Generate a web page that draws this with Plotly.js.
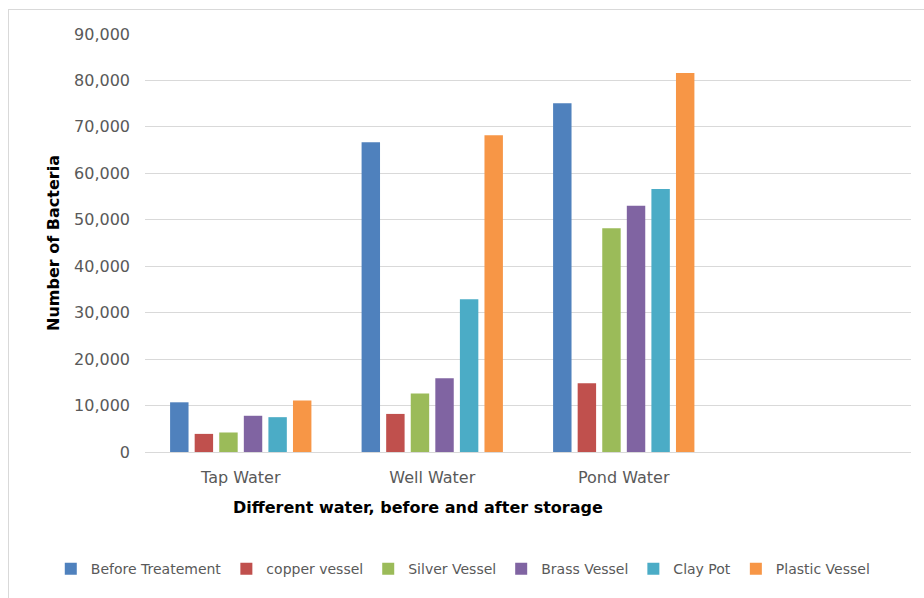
<!DOCTYPE html>
<html>
<head>
<meta charset="utf-8">
<script src="https://cdn.plot.ly/plotly-3.0.1.min.js"></script>
<style>
  html, body { margin: 0; padding: 0; background: #fff; }
  #chart { width: 924px; height: 598px; position: relative; }
  #frame { position: absolute; left: 8px; top: 9px; width: 916px; height: 589px;
           border-top: 1px solid #d9d9d9; border-left: 1px solid #d9d9d9;
           pointer-events: none; box-sizing: border-box; }
</style>
</head>
<body>
<div id="chart"></div>
<div id="frame"></div>
<script>
const categories = ['Tap Water', 'Well Water', 'Pond Water'];
const seriesNames = ['Before Treatement', 'copper vessel', 'Silver Vessel', 'Brass Vessel', 'Clay Pot', 'Plastic Vessel'];
const beforeTreatment = [10700, 66700, 75100];
const copperVessel = [3900, 8200, 14800];
const silverVessel = [4200, 12600, 48200];
const brassVessel = [7800, 15900, 53000];
const clayPot = [7500, 32900, 56600];
const plasticVessel = [11100, 68200, 81600];
const yTickValues = [0, 10000, 20000, 30000, 40000, 50000, 60000, 70000, 80000, 90000];
const xTitle = 'Different water, before and after storage';
const yTitle = 'Number of Bacteria';

const seriesValues = [beforeTreatment, copperVessel, silverVessel, brassVessel, clayPot, plasticVessel];
const colors = ['#4F81BD', '#C0504D', '#9BBB59', '#8064A2', '#4BACC6', '#F79646'];

const traces = seriesNames.map((name, i) => ({
  type: 'bar',
  name: name,
  x: categories,
  y: seriesValues[i],
  marker: { color: colors[i], line: { width: 0 } },
  hoverinfo: 'x+y+name'
}));

const FONT = 'DejaVu Sans, sans-serif';

const layout = {
  width: 924,
  height: 598,
  margin: { l: 145, r: 13, t: 34, b: 146 },
  paper_bgcolor: '#ffffff',
  plot_bgcolor: '#ffffff',
  font: { family: FONT, size: 14, color: '#595959' },
  barmode: 'group',
  bargap: 0.23,
  bargroupgap: 0.25,
  showlegend: true,
  legend: {
    orientation: 'h',
    x: -0.123, xanchor: 'left',
    y: -0.28, yanchor: 'middle',
    font: { family: FONT, size: 14, color: '#595959' },
    itemwidth: 30,
    traceorder: 'normal'
  },
  annotations: [{
    text: xTitle,
    xref: 'paper', yref: 'paper',
    x: 0.356, y: -0.1316,
    xanchor: 'center', yanchor: 'middle',
    showarrow: false,
    font: { family: FONT, size: 16, color: '#000000', weight: 'bold' }
  }],
  xaxis: {
    type: 'category',
    range: [-0.5, 3.5],
    showgrid: false,
    showline: true,
    linecolor: '#d9d9d9',
    linewidth: 1,
    ticks: '',
    ticklabelstandoff: 11,
    tickfont: { family: FONT, size: 16, color: '#595959' },
    automargin: false,
    fixedrange: true
  },
  yaxis: {
    range: [0, 90000],
    tickvals: yTickValues,
    tickformat: ',d',
    showgrid: true,
    gridcolor: '#d9d9d9',
    gridwidth: 1,
    zeroline: false,
    showline: false,
    ticks: '',
    ticklabelstandoff: 14,
    tickfont: { family: FONT, size: 16, color: '#595959' },
    title: { text: yTitle,
             font: { family: FONT, size: 16, color: '#000000', weight: 'bold' },
             standoff: 10 },
    automargin: false,
    fixedrange: true
  }
};

Plotly.newPlot('chart', traces, layout, { displayModeBar: false, staticPlot: true });
</script>
</body>
</html>
